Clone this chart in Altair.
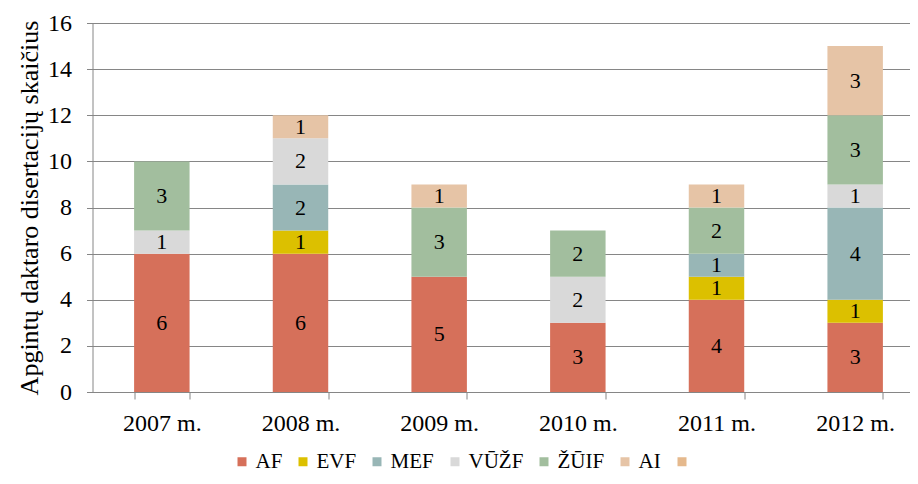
import altair as alt
import pandas as pd

years = ["2007 m.", "2008 m.", "2009 m.", "2010 m.", "2011 m.", "2012 m."]
faculties = ["AF", "EVF", "MEF", "VŪŽF", "ŽŪIF", "AI"]
legend_extra = [" "]
af = [6, 6, 5, 3, 4, 3]
evf = [0, 1, 0, 0, 1, 1]
mef = [0, 2, 0, 0, 1, 4]
vuzf = [1, 2, 0, 2, 0, 1]
zuif = [3, 0, 3, 2, 2, 3]
ai = [0, 1, 1, 0, 1, 3]
colors = ["#D6705A", "#DCC000", "#98B6B6", "#D9D9D9", "#A2BE9E", "#E6C4A6", "#E5B98D"]
y_ticks = [0, 2, 4, 6, 8, 10, 12, 14, 16]

series = [af, evf, mef, vuzf, zuif, ai]
rows = []
for k, (fac, vals) in enumerate(zip(faculties, series)):
    for yr, v in zip(years, vals):
        if v > 0:
            rows.append({"year": yr, "faculty": fac, "value": v, "order": k})
df = pd.DataFrame(rows)

FONT = "'Liberation Serif', 'Times New Roman', Times, serif"
GREY = "#868686"

base = alt.Chart(df).transform_stack(
    stack="value", groupby=["year"], sort=[alt.SortField("order")], as_=["y0", "y1"]
).transform_calculate(mid="(datum.y0 + datum.y1) / 2")

xscale = alt.Scale(paddingInner=0.6, paddingOuter=0.3, range=[0, 832])

bars = base.mark_bar().encode(
    x=alt.X("year:N", sort=years, scale=xscale,
            axis=alt.Axis(title=None, labelAngle=0, tickBand="extent", grid=False,
                          labelFont=FONT, labelFontSize=24, labelPadding=12, tickSize=7,
                          labelColor="black")),
    y=alt.Y("y0:Q", scale=alt.Scale(domain=[0, 16], nice=False),
            axis=alt.Axis(title="Apgintų daktaro disertacijų skaičius", values=y_ticks,
                          grid=True, labelFont=FONT, labelFontSize=24, labelPadding=15,
                          tickSize=6, labelColor="black",
                          titleFont=FONT, titleFontSize=26, titleFontWeight="normal",
                          titlePadding=5, titleColor="black")),
    y2="y1:Q",
    color=alt.Color("faculty:N",
                    scale=alt.Scale(domain=faculties + legend_extra, range=colors),
                    legend=alt.Legend(title=None, orient="none", legendX=139, legendY=428,
                                      direction="horizontal", columns=7,
                                      symbolType="square", symbolSize=81,
                                      symbolStrokeWidth=0, labelFont=FONT,
                                      labelFontSize=21, labelColor="black",
                                      columnPadding=10, labelOffset=3)),
)

text = base.mark_text(font=FONT, fontSize=22, color="black", baseline="middle").encode(
    x=alt.X("year:N", sort=years, scale=xscale),
    y=alt.Y("mid:Q"),
    text="value:Q",
)

chart = alt.layer(bars, text).properties(
    width=817, height=369,
    autosize=alt.AutoSizeParams(type="none"),
    padding={"left": 84.5, "top": 15, "right": 0, "bottom": 84},
).configure_view(stroke=None).configure_axis(
    labelFont=FONT, titleFont=FONT,
    domainColor=GREY, tickColor=GREY, gridColor=GREY, domainWidth=1, gridWidth=1,
)

chart.save("out.html", embed_options={"renderer": "svg", "actions": False})
